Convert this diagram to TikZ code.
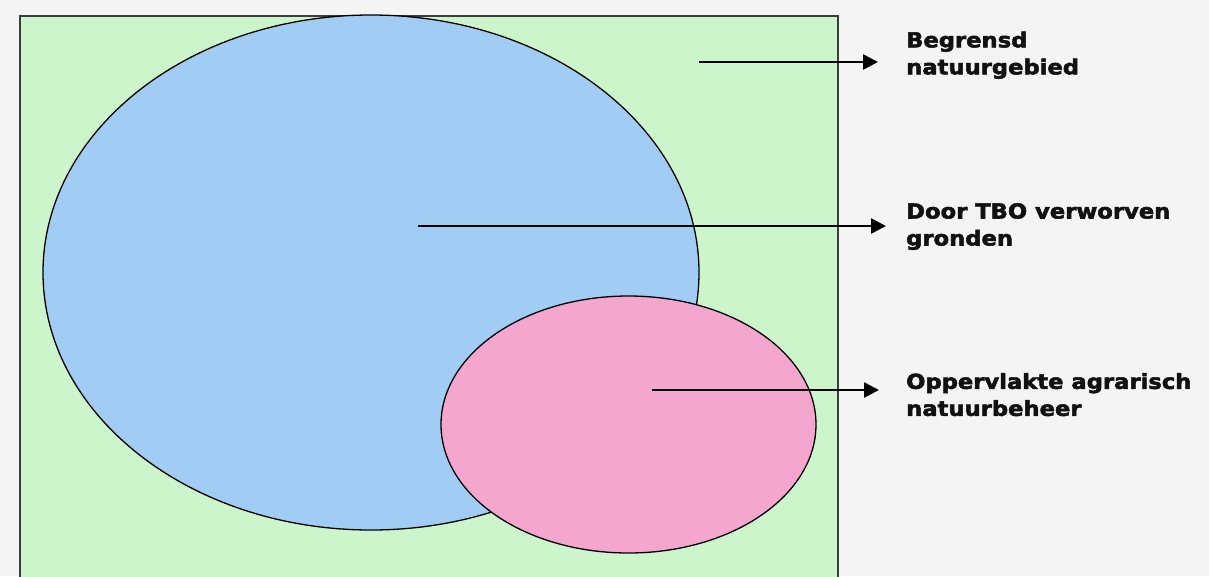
\documentclass[tikz,border=0pt]{standalone}
\usepackage{fontspec}
\newfontfamily\lblfont[FakeStretch=1.10,BoldFeatures={FakeBold=2.5}]{DejaVu Sans}
\usetikzlibrary{shapes.geometric,arrows.meta}
\definecolor{bgcol}{RGB}{244,244,244}
\definecolor{greenfill}{RGB}{204,245,204}
\definecolor{bluefill}{RGB}{161,205,245}
\definecolor{pinkfill}{RGB}{244,166,206}
\definecolor{rectline}{RGB}{60,60,60}
\definecolor{txtcol}{RGB}{17,17,17}
\begin{document}
\begin{tikzpicture}[x=1pt,y=-1pt,
  blob/.style={ellipse,draw=black,line width=1.3pt,inner sep=0pt},
  lbl/.style={anchor=north west,inner sep=0pt,align=left,text=txtcol,
    font=\lblfont\bfseries\fontsize{20.6}{27}\selectfont},
  pointer/.style={line width=2.5pt,-{Triangle[length=15pt,width=15pt]}}]
\useasboundingbox (0,0) rectangle (1209,576);
\clip (0,0) rectangle (1209,576);
\fill[bgcol] (0,0) rectangle (1209,576);
\filldraw[fill=greenfill,draw=rectline,line width=1.5pt] (20,16) rectangle (838,610);
\node[blob,fill=bluefill,minimum width=656pt,minimum height=515pt] (blue) at (371,272.5) {};
\node[blob,fill=pinkfill,minimum width=375pt,minimum height=257pt] (pink) at (628.5,424.5) {};
\node[lbl] (l1) at (906,31.5) {Begrensd\\natuurgebied};
\node[lbl] (l2) at (906,203) {Door TBO verworven\\gronden};
\node[lbl] (l3) at (906,373) {Oppervlakte agrarisch\\natuurbeheer};
\coordinate (s1) at (699,62);
\coordinate (e1) at (878,62);
\coordinate (s2) at (418,226);
\coordinate (e2) at (886,226);
\coordinate (s3) at (652,390);
\coordinate (e3) at (879,390);
\draw[pointer] (s1) -- (e1);
\draw[pointer] (s2) -- (e2);
\draw[pointer] (s3) -- (e3);
\end{tikzpicture}
\end{document}
